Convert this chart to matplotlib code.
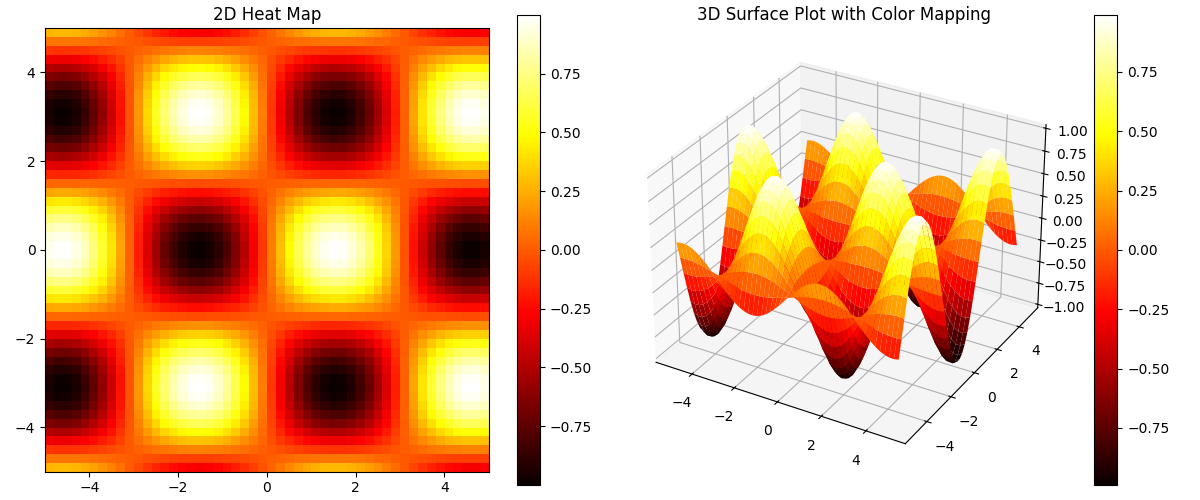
import numpy as np
import matplotlib
matplotlib.use('Agg')
import matplotlib.pyplot as plt

# ----------- data ----------------------------------------
# axis range of both panels, and the 50 cell centres along each axis
axis_min = -5
axis_max = 5
n_cells = 50

# brightness profile across the columns, left half (the right half mirrors it with opposite sign)
col_left = [0.959, 0.996, 0.993, 0.948, 0.863, 0.744, 0.595, 0.418, 0.224, 0.021,
            -0.182, -0.376, -0.556, -0.714, -0.841, -0.933, -0.986, -0.999, -0.970, -0.901,
            -0.794, -0.655, -0.488, -0.301, -0.102]

# brightness profile across the rows, bottom half (the top half mirrors it)
row_bottom = [0.284, 0.084, -0.120, -0.318, -0.505, -0.669, -0.804, -0.908, -0.975, -1.000,
              -0.983, -0.926, -0.831, -0.700, -0.541, -0.360, -0.163, 0.040, 0.241, 0.433,
              0.607, 0.756, 0.873, 0.954, 0.995]

# ----------- build the grid from the two profiles --------
col_profile = np.array(col_left + [-v for v in col_left[::-1]])
row_profile = np.array(row_bottom + row_bottom[::-1])
Z = np.outer(row_profile, col_profile)

x = np.linspace(axis_min, axis_max, n_cells)
y = np.linspace(axis_min, axis_max, n_cells)
X, Y = np.meshgrid(x, y)

# ----------- draw ----------------------------------------
fig = plt.figure(figsize=(12, 5))

ax1 = fig.add_subplot(1, 2, 1)
im = ax1.imshow(Z, extent=[axis_min, axis_max, axis_min, axis_max], origin='lower', cmap='hot')
ax1.set_title('2D Heat Map')
fig.colorbar(im, ax=ax1)

ax2 = fig.add_subplot(1, 2, 2, projection='3d')
surf = ax2.plot_surface(X, Y, Z, cmap='hot')
ax2.set_title('3D Surface Plot with Color Mapping')
fig.colorbar(surf, ax=ax2)

plt.tight_layout()
plt.savefig('out.png', dpi=100)
